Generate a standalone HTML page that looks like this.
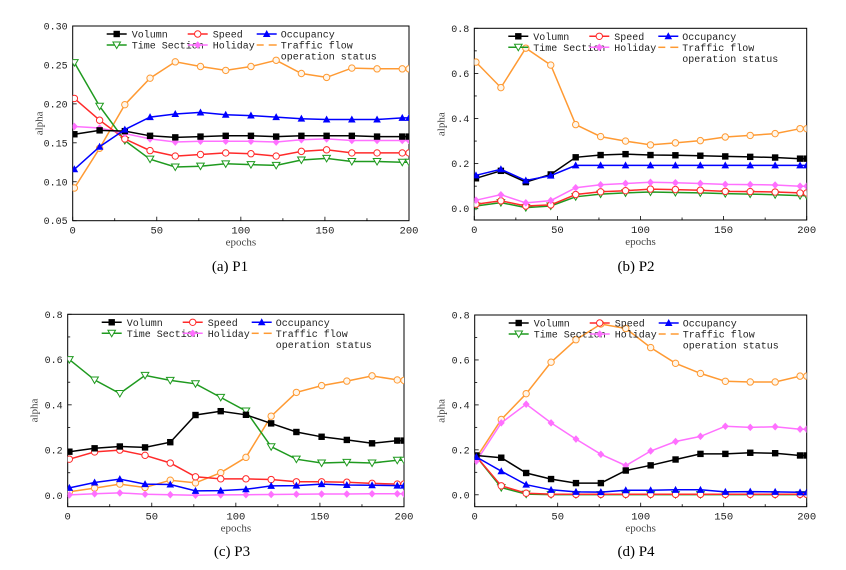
<!DOCTYPE html>
<html><head><meta charset="utf-8">
<style>
html,body{margin:0;padding:0;background:#fff;}
svg{display:block;font-family:"Liberation Mono","Noto Sans CJK SC",monospace;}
.cap{font-family:"Liberation Serif",serif;font-size:15px;}
</style></head>
<body>
<svg id="chart" width="846" height="570" viewBox="0 0 846 570"></svg>
<script>
const epochs = [1,16,31,46,61,76,91,106,121,136,151,166,181,196,200];
const seriesNames = ["Volumn","Speed","Occupancy","Time Section","Holiday","Traffic flow operation status"];
// P1
const p1Volumn = [0.161,0.166,0.165,0.159,0.157,0.158,0.159,0.159,0.158,0.159,0.159,0.159,0.158,0.158,0.158];
const p1Speed = [0.207,0.179,0.155,0.140,0.133,0.135,0.137,0.136,0.133,0.139,0.141,0.137,0.137,0.137,0.137];
const p1Occupancy = [0.116,0.145,0.167,0.183,0.187,0.189,0.186,0.185,0.183,0.181,0.180,0.180,0.180,0.182,0.182];
const p1Time = [0.253,0.197,0.153,0.129,0.119,0.120,0.123,0.122,0.121,0.128,0.130,0.126,0.126,0.125,0.125];
const p1Holiday = [0.171,0.169,0.162,0.155,0.151,0.152,0.152,0.152,0.151,0.154,0.155,0.153,0.153,0.153,0.153];
const p1Traffic = [0.092,0.143,0.199,0.233,0.254,0.248,0.243,0.248,0.256,0.239,0.234,0.246,0.245,0.245,0.245];
// P2
const p2Volumn = [0.135,0.168,0.118,0.152,0.228,0.238,0.242,0.238,0.237,0.235,0.232,0.230,0.227,0.222,0.222];
const p2Speed = [0.020,0.035,0.012,0.017,0.063,0.075,0.080,0.087,0.085,0.082,0.077,0.076,0.074,0.070,0.070];
const p2Occupancy = [0.148,0.175,0.125,0.147,0.192,0.192,0.192,0.192,0.192,0.192,0.192,0.192,0.192,0.192,0.192];
const p2Time = [0.012,0.027,0.005,0.012,0.053,0.065,0.070,0.074,0.072,0.070,0.067,0.065,0.062,0.058,0.058];
const p2Holiday = [0.038,0.062,0.026,0.036,0.093,0.106,0.112,0.117,0.115,0.112,0.108,0.107,0.105,0.100,0.100];
const p2Traffic = [0.650,0.537,0.712,0.637,0.373,0.320,0.300,0.283,0.292,0.302,0.318,0.325,0.333,0.355,0.355];
// P3
const p3Volumn = [0.193,0.208,0.216,0.212,0.235,0.355,0.372,0.356,0.318,0.280,0.259,0.245,0.230,0.242,0.242];
const p3Speed = [0.160,0.192,0.200,0.177,0.143,0.082,0.073,0.073,0.070,0.060,0.060,0.058,0.053,0.050,0.050];
const p3Occupancy = [0.033,0.057,0.072,0.050,0.048,0.020,0.021,0.027,0.042,0.043,0.050,0.046,0.045,0.043,0.043];
const p3Time = [0.600,0.510,0.450,0.530,0.508,0.493,0.433,0.373,0.215,0.160,0.143,0.146,0.143,0.155,0.155];
const p3Holiday = [0.002,0.007,0.011,0.005,0.003,0.001,0.002,0.003,0.004,0.005,0.006,0.006,0.007,0.007,0.007];
const p3Traffic = [0.016,0.032,0.050,0.035,0.067,0.055,0.100,0.168,0.350,0.455,0.485,0.505,0.528,0.510,0.508];
// P4
const p4Volumn = [0.175,0.165,0.097,0.070,0.052,0.052,0.108,0.131,0.157,0.182,0.182,0.187,0.185,0.175,0.175];
const p4Speed = [0.170,0.040,0.007,0.003,0.002,0.002,0.002,0.002,0.002,0.002,0.002,0.002,0.002,0.002,0.002];
const p4Occupancy = [0.168,0.105,0.045,0.022,0.013,0.012,0.020,0.020,0.022,0.022,0.013,0.014,0.013,0.011,0.011];
const p4Time = [0.170,0.032,0.003,0.001,0.001,0.001,0.001,0.001,0.001,0.001,0.001,0.001,0.001,0.001,0.001];
const p4Holiday = [0.150,0.320,0.403,0.320,0.248,0.180,0.130,0.195,0.237,0.260,0.305,0.300,0.303,0.292,0.292];
const p4Traffic = [0.165,0.335,0.450,0.590,0.690,0.760,0.740,0.655,0.585,0.540,0.505,0.502,0.502,0.528,0.528];
const xTicks = [0,50,100,150,200];
const yTicksA = ["0.05","0.10","0.15","0.20","0.25","0.30"];
const yTicksB = ["0.0","0.2","0.4","0.6","0.8"];

const NS="http://www.w3.org/2000/svg";
const svg=document.getElementById('chart');
function mk(tag,attrs,parent){const e=document.createElementNS(NS,tag);for(const k in attrs)e.setAttribute(k,attrs[k]);(parent||svg).appendChild(e);return e;}

const styles=[
 {c:"#000000",m:"square",fill:"#000000"},
 {c:"#ff2a2a",m:"circle",fill:"#ffffff"},
 {c:"#0000ff",m:"tri",fill:"#0000ff"},
 {c:"#1f9a1f",m:"itri",fill:"#ffffff"},
 {c:"#ff70ff",m:"diamond",fill:"#ff70ff"},
 {c:"#ff9a33",m:"circle",fill:"#fff6ea"}
];

function marker(g,type,x,y,st){
  let e;
  if(type==="square") e=mk('rect',{x:x-3.2,y:y-3.2,width:6.4,height:6.4,fill:st.fill},g);
  else if(type==="circle") e=mk('circle',{cx:x,cy:y,r:3.2,fill:st.fill,stroke:st.c,'stroke-width':1},g);
  else if(type==="tri") e=mk('polygon',{points:`${x},${y-4} ${x-3.8},${y+3} ${x+3.8},${y+3}`,fill:st.fill},g);
  else if(type==="itri") e=mk('polygon',{points:`${x},${y+3.5} ${x-3.8},${y-3} ${x+3.8},${y-3}`,fill:st.fill,stroke:st.c,'stroke-width':1},g);
  else e=mk('polygon',{points:`${x},${y-3.8} ${x+3.5},${y} ${x},${y+3.8} ${x-3.5},${y}`,fill:st.fill},g);
  
  
}

const panels=[
 {id:"p1",cap:"(a)  P1",capX:230,capY:271,L:72.7,R:409,T:26,B:220.7,ymin:0.05,ymax:0.30,yt:yTicksA,ym:0.025,
  data:[p1Volumn,p1Speed,p1Occupancy,p1Time,p1Holiday,p1Traffic]},
 {id:"p2",cap:"(b)  P2",capX:636,capY:271,L:474.3,R:806.7,T:28.3,B:220,ymin:-0.05,ymax:0.8,yt:yTicksB,ym:0.1,
  data:[p2Volumn,p2Speed,p2Occupancy,p2Time,p2Holiday,p2Traffic]},
 {id:"p3",cap:"(c)  P3",capX:232,capY:556,L:67.7,R:404,T:314.3,B:506.7,ymin:-0.05,ymax:0.8,yt:yTicksB,ym:0.1,
  data:[p3Volumn,p3Speed,p3Occupancy,p3Time,p3Holiday,p3Traffic]},
 {id:"p4",cap:"(d)  P4",capX:636,capY:556,L:474.7,R:806.7,T:315,B:506.7,ymin:-0.053,ymax:0.8,yt:yTicksB,ym:0.1,
  data:[p4Volumn,p4Speed,p4Occupancy,p4Time,p4Holiday,p4Traffic]}
];

panels.forEach(p=>{
  const g=mk('g',{});
  
  
  const xs=v=>p.L+(v/200)*(p.R-p.L);
  const ys=v=>p.B-(v-p.ymin)/(p.ymax-p.ymin)*(p.B-p.T);
  const clipId='clip-'+p.id;
  const cp=mk('clipPath',{id:clipId},g);
  mk('rect',{x:p.L,y:p.T-6,width:p.R-p.L,height:p.B-p.T+6},cp);
  // ticks
  xTicks.forEach(t=>{
    const x=xs(t);
    mk('line',{x1:x,y1:p.B,x2:x,y2:p.B-4,stroke:'#000','stroke-width':0.8},g);
    const tl=mk('text',{x:x,y:p.B+13,'font-size':10.5,'text-anchor':'middle',fill:'#222'},g);
    tl.textContent=t;
    
    
    if(t<200){const xm=xs(t+25);mk('line',{x1:xm,y1:p.B,x2:xm,y2:p.B-2.5,stroke:'#000','stroke-width':0.8},g);}
  });
  p.yt.forEach(lbl=>{
    const v=parseFloat(lbl), y=ys(v);
    mk('line',{x1:p.L,y1:y,x2:p.L+4,y2:y,stroke:'#000','stroke-width':0.8},g);
    const tl=mk('text',{x:p.L-5,y:y+3.5,'font-size':10,'text-anchor':'end',fill:'#222'},g);
    tl.textContent=lbl;
    
    
    const vm=v+p.ym/1;
    if(p.ym===0.1 && vm<p.ymax){const ym=ys(vm);mk('line',{x1:p.L,y1:ym,x2:p.L+2.5,y2:ym,stroke:'#000','stroke-width':0.8},g);}
  });
  // frame
  const fr=mk('rect',{x:p.L,y:p.T,width:p.R-p.L,height:p.B-p.T,fill:'none',stroke:'#000','stroke-width':1},g);
  
  
  // axis titles
  const xt=mk('text',{x:(p.L+p.R)/2,y:p.B+25,'font-size':11,'text-anchor':'middle',fill:'#444','font-family':'Liberation Serif, serif'},g);
  xt.textContent='epochs';
  
  
  const yc=(p.T+p.B)/2, yx=p.L-30;
  const yt=mk('text',{x:yx,y:yc,'font-size':11,'text-anchor':'middle',fill:'#444',transform:`rotate(-90 ${yx} ${yc})`,'font-family':'Liberation Serif, serif'},g);
  yt.textContent='alpha';
  
  
  // series (order: traffic first so others over)
  const order=[5,3,1,4,0,2];
  order.forEach(si=>{
    const st=styles[si], vals=p.data[si];
    const sg=mk('g',{'clip-path':`url(#${clipId})`},g);
    
    
    const pts=vals.map((v,i)=>xs(epochs[i]).toFixed(1)+','+ys(v).toFixed(1)).join(' ');
    const ln=mk('polyline',{points:pts,fill:'none',stroke:st.c,'stroke-width':1.5},sg);
    
    
    vals.forEach((v,i)=>marker(sg,st.m,xs(epochs[i]),ys(v),st));
  });
  // legend
  const lg=mk('g',{},g);
  
  
  const colsLine=[34,115,184], colsText=[59,140,208];
  for(let si=0;si<6;si++){
    const col=si%3,row=Math.floor(si/3);
    const y=p.T+8+row*11;
    const x1=p.L+colsLine[col], x2=x1+20;
    const st=styles[si];
    const eg=mk('g',{},lg);
    
    
    if(si===5){
      mk('line',{x1:x1,y1:y,x2:x1+7,y2:y,stroke:st.c,'stroke-width':1.5},eg);
      mk('line',{x1:x1+12,y1:y,x2:x2,y2:y,stroke:st.c,'stroke-width':1.5},eg);
    } else {
      mk('line',{x1:x1,y1:y,x2:x2,y2:y,stroke:st.c,'stroke-width':1.5},eg);
      marker(eg,st.m,(x1+x2)/2,y,st);
    }
    const tx=mk('text',{x:p.L+colsText[col],y:y+3.5,'font-size':10,fill:'#222'},eg);
    tx.textContent=si===5?'Traffic flow':seriesNames[si];
    if(si===5){const t2=mk('text',{x:p.L+colsText[col],y:y+14.5,'font-size':10,fill:'#222'},eg);t2.textContent='operation status';}
  }
  const cap=mk('text',{x:p.capX,y:p.capY,'text-anchor':'middle',class:'cap',fill:'#000'},g);
  cap.textContent=p.cap;
  
  
});
</script>
</body></html>
